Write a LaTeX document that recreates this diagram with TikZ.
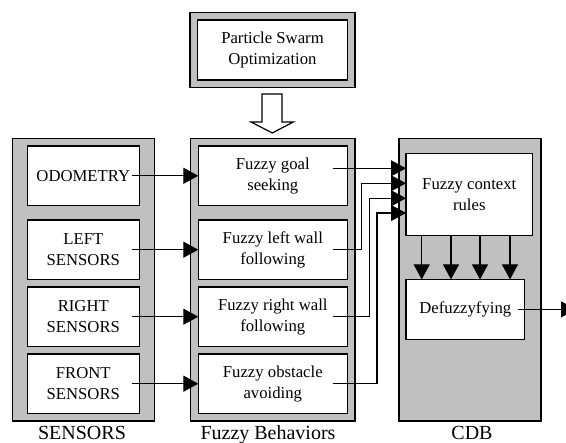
\documentclass[tikz,border=0pt]{standalone}
\usepackage{fontspec}
\setmainfont{Liberation Serif}
\usetikzlibrary{arrows.meta}
\definecolor{boxgray}{RGB}{192,192,192}
\begin{document}
\begin{tikzpicture}[x=1pt,y=-1pt,
  outerbox/.style={draw, fill=boxgray, line width=1.5pt, inner sep=0pt, outer sep=0pt},
  inbox/.style={draw, fill=white, line width=1.3pt, align=center, inner sep=0pt, outer sep=0pt,
    font=\fontsize{16.7}{21}\selectfont},
  lbl/.style={anchor=base, inner sep=0pt, font=\fontsize{20}{24}\selectfont},
  conn/.style={line width=1.2pt},
  arr/.style={conn, -{Triangle[length=15pt,width=16pt]}}]
\useasboundingbox (0,0) rectangle (566,443);

% Particle Swarm Optimization
\node[outerbox, minimum width=165pt, minimum height=74.6pt] (psoout) at (272.5,50) {};
\node[inbox, minimum width=150pt, minimum height=60pt] (pso) at (272.5,50) {Particle Swarm\\Optimization};

% hollow arrow
\draw[line width=1.2pt, fill=white] (262,94) -- (282,94) -- (282,122) -- (293.3,122)
  -- (272.3,133) -- (251,122) -- (262,122) -- cycle;

% group containers
\node[outerbox, minimum width=141.6pt, minimum height=282.7pt] (sens) at (83.5,279.7) {};
\node[outerbox, minimum width=164.3pt, minimum height=282.7pt] (beh) at (272.8,279.7) {};
\node[outerbox, minimum width=141.7pt, minimum height=282.7pt] (cdb) at (469.9,279.7) {};

% sensors
\node[inbox, minimum width=112pt, minimum height=59.5pt] (odo) at (83.3,175.8) {ODOMETRY};
\node[inbox, minimum width=112pt, minimum height=59.5pt] (lsen) at (83.3,249.7) {LEFT\\SENSORS};
\node[inbox, minimum width=112pt, minimum height=59.5pt] (rsen) at (83.3,316.7) {RIGHT\\SENSORS};
\node[inbox, minimum width=112pt, minimum height=59.5pt] (fsen) at (83.3,383.7) {FRONT\\SENSORS};

% behaviors
\node[inbox, minimum width=149pt, minimum height=59.5pt] (goal) at (272.8,175.8) {Fuzzy goal\\seeking};
\node[inbox, minimum width=149pt, minimum height=59.5pt] (lwall) at (272.8,249.7) {Fuzzy left wall\\following};
\node[inbox, minimum width=149pt, minimum height=59.5pt] (rwall) at (272.8,316.7) {Fuzzy right wall\\following};
\node[inbox, minimum width=149pt, minimum height=59.5pt] (obst) at (272.8,383.7) {Fuzzy obstacle\\avoiding};

% CDB
\node[inbox, minimum width=126.7pt, minimum height=82pt] (ctx) at (469.3,194.4) {Fuzzy context\\rules};
\node[inbox, minimum width=118.5pt, minimum height=60pt] (defz) at (465.3,309.4) {Defuzzyfying};

% labels
\node[lbl] (lsens) at (82,439.5) {SENSORS};
\node[lbl] (lbeh) at (268,439.5) {Fuzzy Behaviors};
\node[lbl] (lcdb) at (472,439.5) {CDB};

% sensors -> behaviors
\draw[arr] ([xshift=-7.6pt]odo.east) -- (goal.west);
\draw[arr] ([xshift=-7.6pt]lsen.east) -- (lwall.west);
\draw[arr] ([xshift=-7.6pt]rsen.east) -- (rwall.west);
\draw[arr] ([xshift=-7.6pt]fsen.east) -- (obst.west);

% behaviors -> context rules
\coordinate (o1) at (332.7,168.3);
\coordinate (o2) at (332.7,249.7);
\coordinate (o3) at (332.7,316.7);
\coordinate (o4) at (332.7,383.7);
\coordinate (t1) at (406,168.3);
\coordinate (t2) at (406,183.3);
\coordinate (t3) at (406,198.3);
\coordinate (t4) at (406,213);
\draw[arr] (o1) -- (t1);
\draw[arr] (o2) -- (361.7,249.7) -- (361.7,183.3) -- (t2);
\draw[arr] (o3) -- (369.3,316.7) -- (369.3,198.3) -- (t3);
\draw[arr] (o4) -- (376.9,383.7) -- (376.9,213) -- (t4);

% context rules -> defuzzifying
\foreach \dx [count=\i] in {-47.6,-18.3,10.7,40.7} {
  \coordinate (d\i) at ([xshift=\dx pt]ctx.south);
  \draw[arr] (d\i) -- (d\i |- defz.north);
}

% output
\coordinate (outend) at (576,309.4);
\draw[arr] ([xshift=-6.5pt]defz.east) -- (outend);
\end{tikzpicture}
\end{document}
